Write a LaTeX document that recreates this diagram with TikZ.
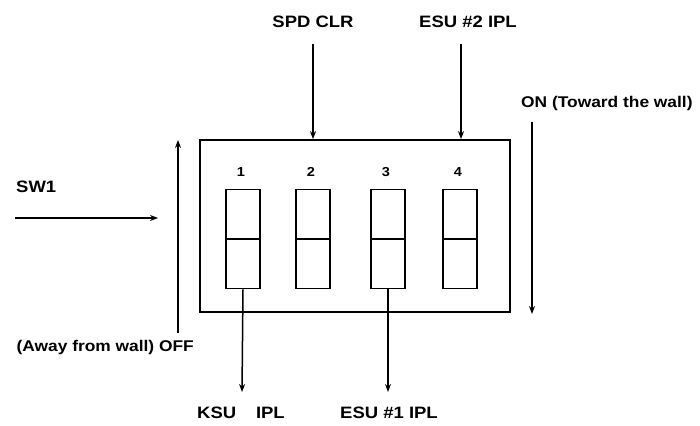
\documentclass[tikz,border=0pt]{standalone}
\usepackage{fontspec}
\setmainfont{Liberation Sans}[FakeStretch=1.12]
\usetikzlibrary{arrows.meta}
\begin{document}
\begin{tikzpicture}[x=1pt,y=-1pt,
  lbl/.style={font=\bfseries\fontsize{16.5}{18}\selectfont, inner sep=0pt},
  lbls/.style={font=\bfseries\fontsize{15.5}{17}\selectfont, inner sep=0pt},
  num/.style={font=\bfseries\fontsize{13}{15}\selectfont, inner sep=0pt},
  sw/.style={draw, line width=1.6pt, minimum width=34pt, minimum height=99pt, inner sep=0pt},
  frame/.style={draw, line width=1.8pt, minimum width=310pt, minimum height=172pt, inner sep=0pt},
  arr/.style={line width=1.5pt, -{Stealth[length=8pt,width=6pt]}}]
\useasboundingbox (0,0) rectangle (700,425);
\node[frame] (box) at (355,226) {};
\foreach \i/\x in {1/243,2/313,3/388,4/460}{
  \node[sw] (s\i) at (\x,239) {};
  \draw[line width=1.6pt] (s\i.west) -- (s\i.east);
  \node[num] (n\i) at (\x-2,172) {\i};
}
\node[lbl] (spd) at (313,22) {SPD CLR};
\node[lbl] (esu2) at (468,22) {ESU \#2 IPL};
\node[lbl] (ksu) at (241,413) {KSU\hspace{1.2em}IPL};
\node[lbl] (esu1) at (389,413) {ESU \#1 IPL};
\node[lbl, anchor=west] (sw1) at (16,187) {SW1};
\node[lbls, anchor=west] (on) at (521,103) {ON (Toward the wall)};
\node[lbls, anchor=east] (off) at (194,347) {(Away from wall) OFF};
\coordinate (spdtop) at (313,44);
\coordinate (esu2top) at (461,44);
\coordinate (ksubot) at (242,392);
\coordinate (esu1bot) at (388,392);
\coordinate (swa) at (15,218);
\coordinate (swb) at (158,218);
\coordinate (offa) at (178,333);
\coordinate (offb) at (178,140);
\coordinate (ona) at (532,122);
\coordinate (onb) at (532,314);
\draw[arr] (spdtop) -- (spdtop |- box.north);
\draw[arr] (esu2top) -- (esu2top |- box.north);
\draw[arr] (s1.south) -- (ksubot);
\draw[arr] (s3.south) -- (esu1bot);
\draw[arr] (swa) -- (swb);
\draw[arr] (offa) -- (offb);
\draw[arr] (ona) -- (onb);
\end{tikzpicture}
\end{document}
